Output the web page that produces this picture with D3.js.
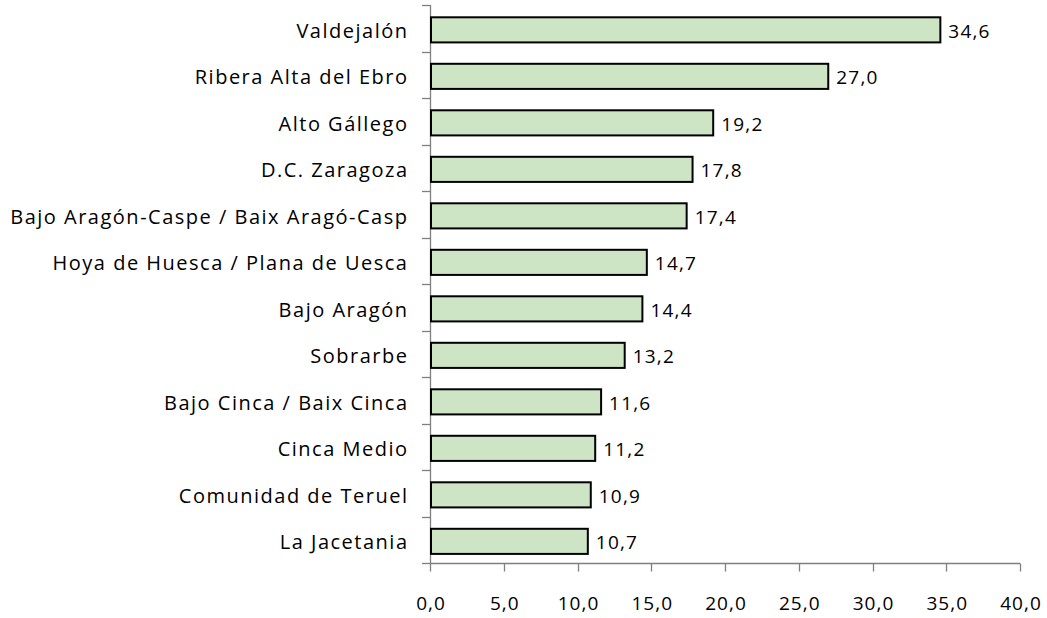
<!DOCTYPE html>
<html>
<head>
<meta charset="utf-8">
<script src="https://cdn.jsdelivr.net/npm/d3@7"></script>
<style>
  body { margin: 0; background: #fff; }
  text { font-family: "Open Sans", Lato, sans-serif; }
</style>
</head>
<body>
<div id="chart"></div>
<script>
const comarcas = [
  'Valdejalón',
  'Ribera Alta del Ebro',
  'Alto Gállego',
  'D.C. Zaragoza',
  'Bajo Aragón-Caspe / Baix Aragó-Casp',
  'Hoya de Huesca / Plana de Uesca',
  'Bajo Aragón',
  'Sobrarbe',
  'Bajo Cinca / Baix Cinca',
  'Cinca Medio',
  'Comunidad de Teruel',
  'La Jacetania',
];
const valores = [34.6, 27.0, 19.2, 17.8, 17.4, 14.7, 14.4, 13.2, 11.6, 11.2, 10.9, 10.7];
const xTicks = [0, 5, 10, 15, 20, 25, 30, 35, 40];

const width = 1047;
const height = 618;
const locale = d3.formatLocale({decimal: ',', thousands: '.', grouping: [3], currency: ['', '€']});
const fmt = locale.format('.1f');

const svg = d3.select('#chart').append('svg')
  .attr('width', width)
  .attr('height', height);

const x = d3.scaleLinear().domain([0, 40]).range([430, 1020]);
const y = d3.scaleBand().domain(comarcas).range([5, 563])
  .paddingInner(0.46).paddingOuter(0.23).align(0.575);

const axisColor = '#7f7f7f';

// x axis
const xAxis = svg.append('g').attr('transform', 'translate(0,563.5)');
xAxis.append('line')
  .attr('x1', x(0)).attr('x2', x(40))
  .attr('stroke', axisColor).attr('stroke-width', 1.3);
xAxis.selectAll('.xt')
  .data(xTicks)
  .enter()
  .append('line')
  .attr('x1', (d) => Math.round(x(d)) + 0.5)
  .attr('x2', (d) => Math.round(x(d)) + 0.5)
  .attr('y1', 0).attr('y2', 8)
  .attr('stroke', axisColor).attr('stroke-width', 1.3);
xAxis.selectAll('.xl')
  .data(xTicks)
  .enter()
  .append('text')
  .attr('x', (d) => x(d) + 1)
  .attr('y', 46.5)
  .attr('text-anchor', 'middle')
  .style('font-size', '19px')
  .style('letter-spacing', '1px')
  .style('fill', '#000')
  .text((d) => fmt(d));

// y axis
const r0 = y.range()[0];
const bounds = d3.range(comarcas.length + 1).map((i) => r0 + i * y.step());
const yAxis = svg.append('g');
yAxis.append('line')
  .attr('x1', 430.5).attr('x2', 430.5)
  .attr('y1', bounds[0]).attr('y2', 564)
  .attr('stroke', axisColor).attr('stroke-width', 1.3);
yAxis.selectAll('.yt')
  .data(bounds)
  .enter()
  .append('line')
  .attr('x1', 422).attr('x2', 430.5)
  .attr('y1', (d) => Math.round(d) + 0.5)
  .attr('y2', (d) => Math.round(d) + 0.5)
  .attr('stroke', axisColor).attr('stroke-width', 1.3);
yAxis.selectAll('.yl')
  .data(comarcas)
  .enter()
  .append('text')
  .attr('x', 408.5)
  .attr('y', (d) => y(d) + y.bandwidth() / 2 + 1)
  .attr('dy', '0.35em')
  .attr('text-anchor', 'end')
  .style('font-size', '20px')
  .style('letter-spacing', '1.5px')
  .style('fill', '#000')
  .text((d) => d);

// bars
const data = comarcas.map((c, i) => ({name: c, value: valores[i]}));
svg.selectAll('.bar')
  .data(data)
  .enter()
  .append('rect')
  .attr('class', 'bar')
  .attr('x', x(0) + 1)
  .attr('y', (d) => y(d.name))
  .attr('width', (d) => x(d.value) - x(0) - 1)
  .attr('height', y.bandwidth())
  .style('fill', '#cde5c4')
  .style('stroke', '#000')
  .style('stroke-width', '2px');

svg.selectAll('.val')
  .data(data)
  .enter()
  .append('text')
  .attr('x', (d) => x(d.value) + 8)
  .attr('y', (d) => y(d.name) + y.bandwidth() / 2 + 1)
  .attr('dy', '0.35em')
  .style('font-size', '19px')
  .style('letter-spacing', '1.2px')
  .style('fill', '#000')
  .text((d) => fmt(d.value));
</script>
</body>
</html>
